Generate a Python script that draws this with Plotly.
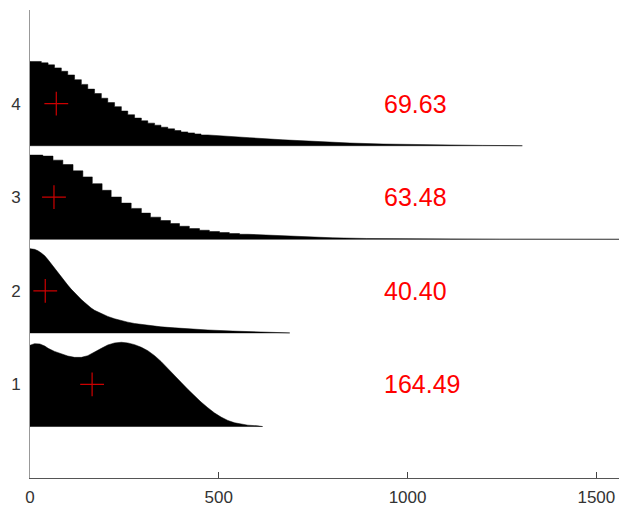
import plotly.graph_objects as go

groups = [1, 2, 3, 4]
means = [164.49, 40.40, 63.48, 69.63]
mean_labels = ["164.49", "40.40", "63.48", "69.63"]

# Group 1: smooth density profile (x, relative height)
g1_x = [0, 12, 26, 39, 48, 65, 83, 100, 118, 127, 136, 153, 171, 189, 206, 224, 242, 259,
        277, 295, 312, 330, 347, 365, 383, 400, 418, 436, 453, 471, 488, 506, 524, 542,
        559, 577, 603, 612, 616]
g1_h = [0.964, 0.984, 0.98, 0.956, 0.928, 0.892, 0.861, 0.837, 0.821, 0.817, 0.821, 0.841,
        0.88, 0.928, 0.968, 0.992, 1.0, 0.992, 0.972, 0.94, 0.9, 0.841, 0.773, 0.693, 0.61,
        0.526, 0.442, 0.363, 0.291, 0.223, 0.163, 0.112, 0.072, 0.044, 0.028, 0.016, 0.008,
        0.004, 0.0]

# Group 2: fine-binned density profile
g2_x = [0, 12, 21, 30, 39, 48, 56, 65, 74, 83, 92, 100, 109, 118, 127, 136, 145, 153, 162,
        171, 189, 206, 224, 242, 259, 277, 295, 312, 330, 347, 383, 418, 453, 471, 537, 626, 688]
g2_h = [1.0, 0.992, 0.976, 0.948, 0.916, 0.868, 0.82, 0.768, 0.716, 0.668, 0.616, 0.568,
        0.52, 0.476, 0.436, 0.396, 0.36, 0.328, 0.296, 0.268, 0.228, 0.196, 0.168, 0.144,
        0.128, 0.112, 0.1, 0.088, 0.08, 0.072, 0.06, 0.048, 0.038, 0.035, 0.022, 0.008, 0.0]

# Group 3: histogram bins (edges, heights) then smooth tail
g3_edges = [0, 34, 61, 87, 114, 140, 165, 191, 215, 242, 268, 295, 319, 346, 372, 396, 422,
            449, 475, 502, 528, 555, 577]
g3_h = [1.0, 0.988, 0.94, 0.888, 0.813, 0.741, 0.661, 0.582, 0.502, 0.43, 0.367, 0.311,
        0.263, 0.223, 0.187, 0.155, 0.127, 0.108, 0.092, 0.08, 0.068, 0.06]
g3_tail_x = [626, 714, 802, 891, 979, 1067, 1243, 1560, 1600]
g3_tail_h = [0.05, 0.032, 0.018, 0.01, 0.006, 0.004, 0.002, 0.001, 0.0]

# Group 4: histogram bins (edges, heights) then smooth tail
g4_edges = [0, 30, 48, 65, 83, 100, 118, 136, 153, 171, 189, 206, 224, 242, 259, 277, 295,
            312, 330, 347, 365, 383, 400, 418, 436, 453, 471]
g4_h = [1.0, 0.984, 0.96, 0.924, 0.884, 0.84, 0.784, 0.728, 0.672, 0.62, 0.564, 0.512,
        0.464, 0.412, 0.368, 0.328, 0.296, 0.268, 0.244, 0.22, 0.2, 0.18, 0.164, 0.152,
        0.14, 0.128]
g4_tail_x = [494, 582, 670, 758, 847, 935, 1023, 1111, 1199, 1304]
g4_tail_h = [0.12, 0.095, 0.07, 0.05, 0.032, 0.02, 0.012, 0.007, 0.004, 0.0]

HALF = 0.45
SPAN = 0.9


def hist_profile(edges, heights):
    xs, hs = [], []
    for i, h in enumerate(heights):
        xs += [edges[i], edges[i + 1]]
        hs += [h, h]
    return xs, hs


profiles = {
    1: (g1_x, g1_h),
    2: (g2_x, g2_h),
}
x3, h3 = hist_profile(g3_edges, g3_h)
profiles[3] = (x3 + g3_tail_x, h3 + g3_tail_h)
x4, h4 = hist_profile(g4_edges, g4_h)
profiles[4] = (x4 + g4_tail_x, h4 + g4_tail_h)

fig = go.Figure()
for g in groups:
    xs, hs = profiles[g]
    base = g - HALF
    px = [0] + list(xs) + [xs[-1], 0]
    py = [base] + [base + SPAN * h for h in hs] + [base, base]
    fig.add_trace(go.Scatter(
        x=px, y=py, mode="lines", fill="toself", fillcolor="black",
        line=dict(color="black", width=0.5), hoverinfo="skip", showlegend=False))

fig.add_trace(go.Scatter(
    x=means, y=groups, mode="markers",
    marker=dict(symbol="cross-thin", size=17, line=dict(color="#cc0000", width=1.2)),
    showlegend=False, hoverinfo="skip"))

for g, lab in zip(groups, mean_labels):
    fig.add_annotation(x=932, y=g, text=lab, showarrow=False, xanchor="left",
                       yanchor="middle",
                       font=dict(family="Liberation Sans, Arial", size=25, color="#ff0000"))

fig.update_layout(
    width=619, height=508,
    margin=dict(l=30, r=0, t=10, b=30),
    paper_bgcolor="white", plot_bgcolor="white",
    font=dict(family="Liberation Sans, Arial", size=17, color="#333333"),
    xaxis=dict(range=[0, 1560], tickvals=[0, 500, 1000, 1500], ticks="inside", ticklen=6,
               tickcolor="#444444", showline=True, linecolor="#555555", linewidth=1,
               showgrid=False, zeroline=False, ticklabelstandoff=4),
    yaxis=dict(range=[0, 5], tickvals=groups, ticks="", showline=True,
               linecolor="#999999", linewidth=1, showgrid=False, zeroline=False,
               ticklabelstandoff=5),
)

fig.write_html("out.html")
